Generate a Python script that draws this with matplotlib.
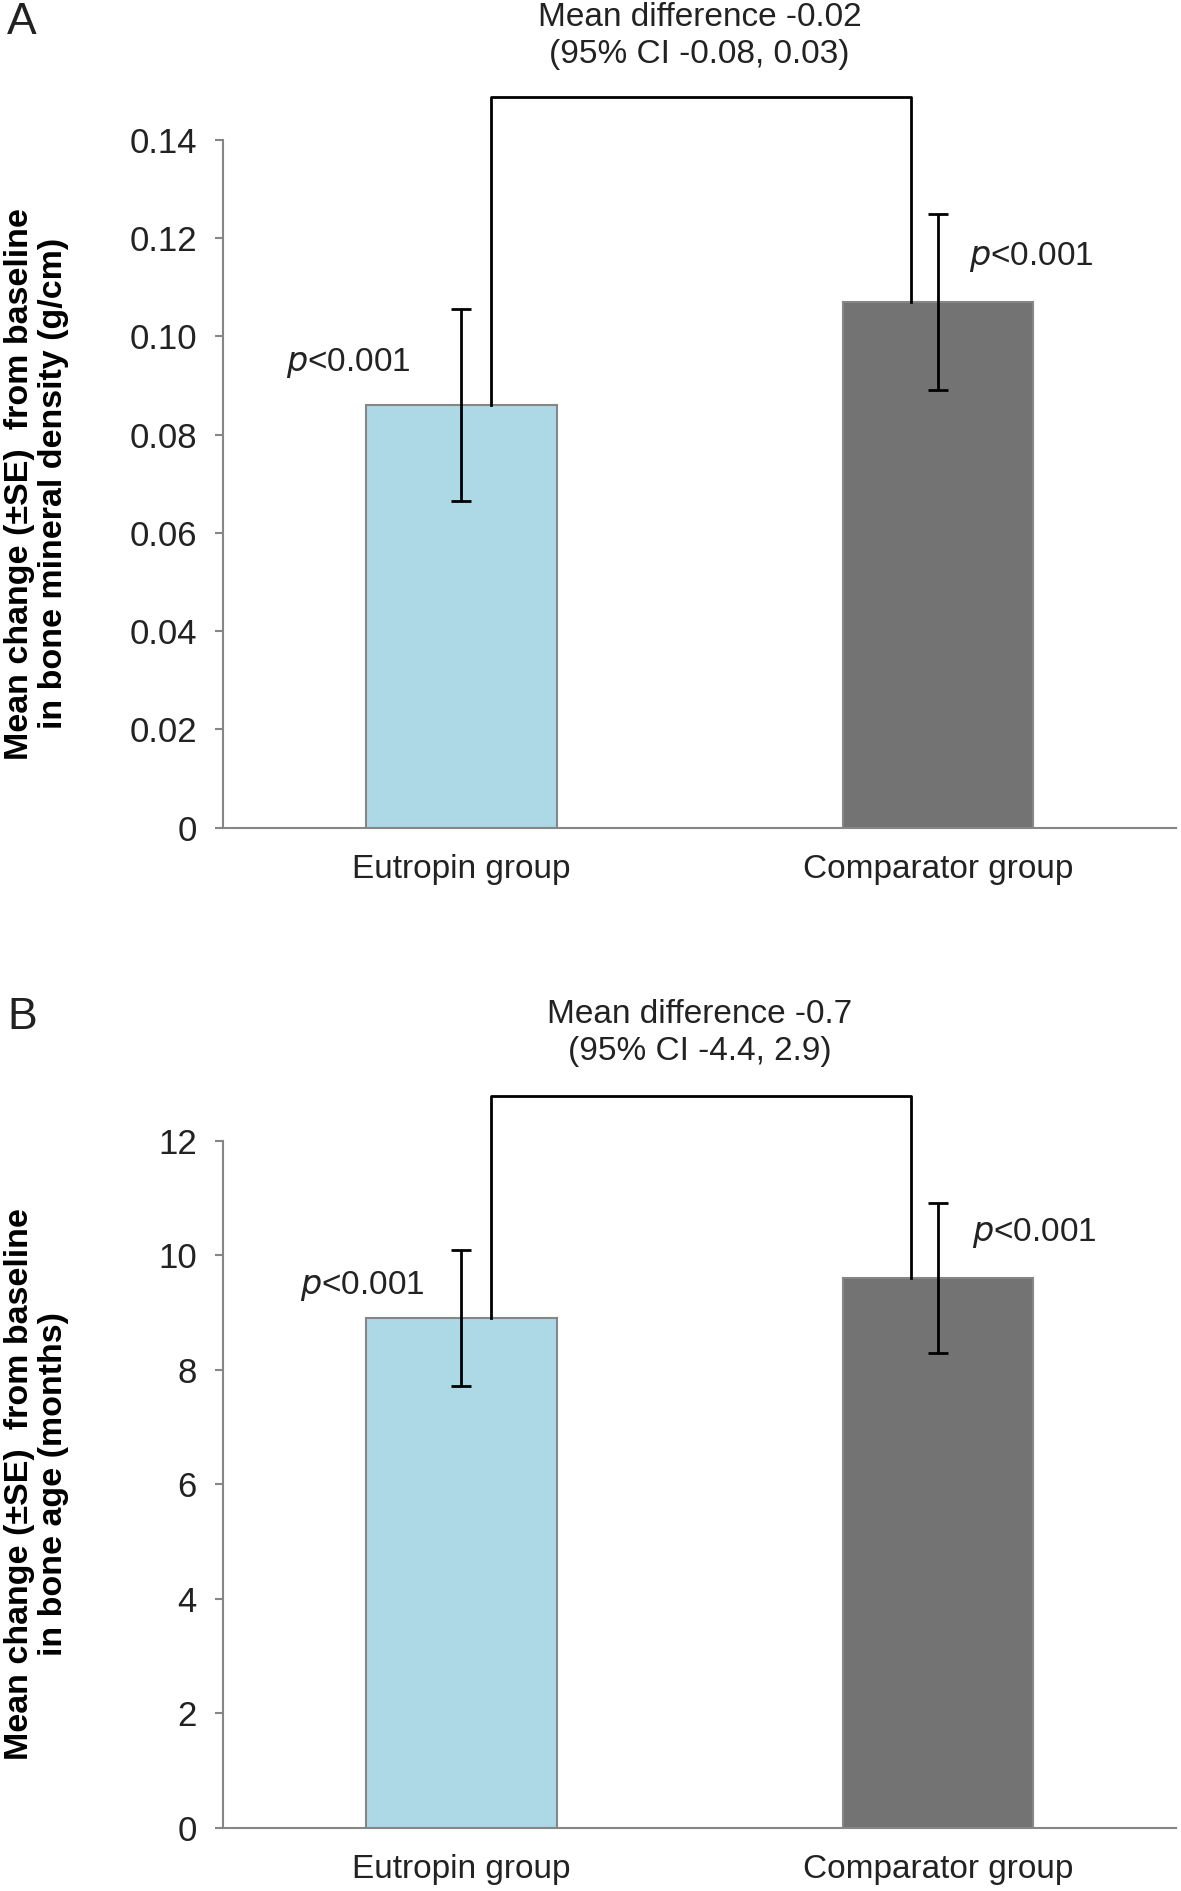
import numpy as np
import matplotlib
matplotlib.use('Agg')
import matplotlib.pyplot as plt

plt.rcParams['font.family'] = ['Liberation Sans', 'DejaVu Sans']

groups = ['Eutropin group', 'Comparator group']
colors = ['#add8e6', '#737373']

# panel A: bone mineral density
bmd_mean = [0.086, 0.107]
bmd_se = [0.0195, 0.018]
bmd_diff = ['Mean difference -0.02', '(95% CI -0.08, 0.03)']
bmd_ticks = [0, 0.02, 0.04, 0.06, 0.08, 0.10, 0.12, 0.14]
bmd_ticklabels = ['0', '0.02', '0.04', '0.06', '0.08', '0.10', '0.12', '0.14']

# panel B: bone age
age_mean = [8.9, 9.6]
age_se = [1.19, 1.31]
age_diff = ['Mean difference -0.7', '(95% CI -4.4, 2.9)']
age_ticks = [0, 2, 4, 6, 8, 10, 12]
age_ticklabels = ['0', '2', '4', '6', '8', '10', '12']

W, H = 1181, 1891
fig = plt.figure(figsize=(W / 100, H / 100), dpi=100)

gray = '#868686'
txt = '#222222'
fs = 24


def draw_panel(ax, means, ses, ticks, ticklabels, ymax, diff_text, bracket_y, text_y, p_pos):
    x = np.arange(len(groups))
    ax.bar(x, means, width=0.4, color=colors, edgecolor=gray, linewidth=1.5, zorder=2)
    ax.errorbar(x, means, yerr=ses, fmt='none', ecolor='black', elinewidth=2,
                capsize=7, capthick=2, zorder=3)
    ax.set_xlim(-0.5, 1.5)
    ax.set_ylim(0, ymax)
    ax.set_yticks(ticks)
    ax.set_yticklabels(ticklabels)
    ax.set_xticks(x)
    ax.set_xticklabels(groups)
    for s in ['top', 'right']:
        ax.spines[s].set_visible(False)
    for s in ['left', 'bottom']:
        ax.spines[s].set_color(gray)
        ax.spines[s].set_linewidth(1.5)
    ax.tick_params(axis='y', colors=gray, labelcolor=txt, labelsize=fs + 1,
                   length=6, width=1.5, pad=13)
    ax.tick_params(axis='x', length=0, labelsize=fs, labelcolor=txt, pad=19)

    # bracket between groups
    lx, rx = 0.062, 0.943
    ax.plot([lx, lx, rx, rx], [means[0], bracket_y, bracket_y, means[1]],
            color='black', lw=2, clip_on=False, zorder=4)
    ax.text(0.5, text_y[0], diff_text[0], ha='center', va='center', fontsize=fs,
            color=txt, clip_on=False)
    ax.text(0.5, text_y[1], diff_text[1], ha='center', va='center', fontsize=fs,
            color=txt, clip_on=False)
    for (px, py) in p_pos:
        ax.text(px, py, r'$\it{p}$<0.001', ha='center', va='center', fontsize=fs,
                color=txt)


axA = fig.add_axes([0.189, 0.5624, 0.807, 0.3636])
draw_panel(axA, bmd_mean, bmd_se, bmd_ticks, bmd_ticklabels, 0.14, bmd_diff,
           0.1488, (0.165, 0.1574), [(-0.237, 0.0946), (1.196, 0.1162)])

axB = fig.add_axes([0.189, 0.0335, 0.807, 0.3631])
draw_panel(axB, age_mean, age_se, age_ticks, age_ticklabels, 12, age_diff,
           12.78, (14.22, 13.57), [(-0.209, 9.47), (1.203, 10.40)])

fig.text(0.031, 0.5624 + 0.3636 / 2,
         'Mean change (\u00b1SE)  from baseline\nin bone mineral density (g/cm)',
         rotation=90, ha='center', va='center', fontsize=24.5, fontweight='bold',
         linespacing=1.13)
fig.text(0.031, 0.0335 + 0.3631 / 2,
         'Mean change (\u00b1SE)  from baseline\nin bone age (months)',
         rotation=90, ha='center', va='center', fontsize=24.5, fontweight='bold',
         linespacing=1.13)

fig.text(0.006, 0.988, 'A', fontsize=32, va='center', ha='left', color=txt)
fig.text(0.006, 0.462, 'B', fontsize=32, va='center', ha='left', color=txt)

fig.savefig('out.png', dpi=100)
